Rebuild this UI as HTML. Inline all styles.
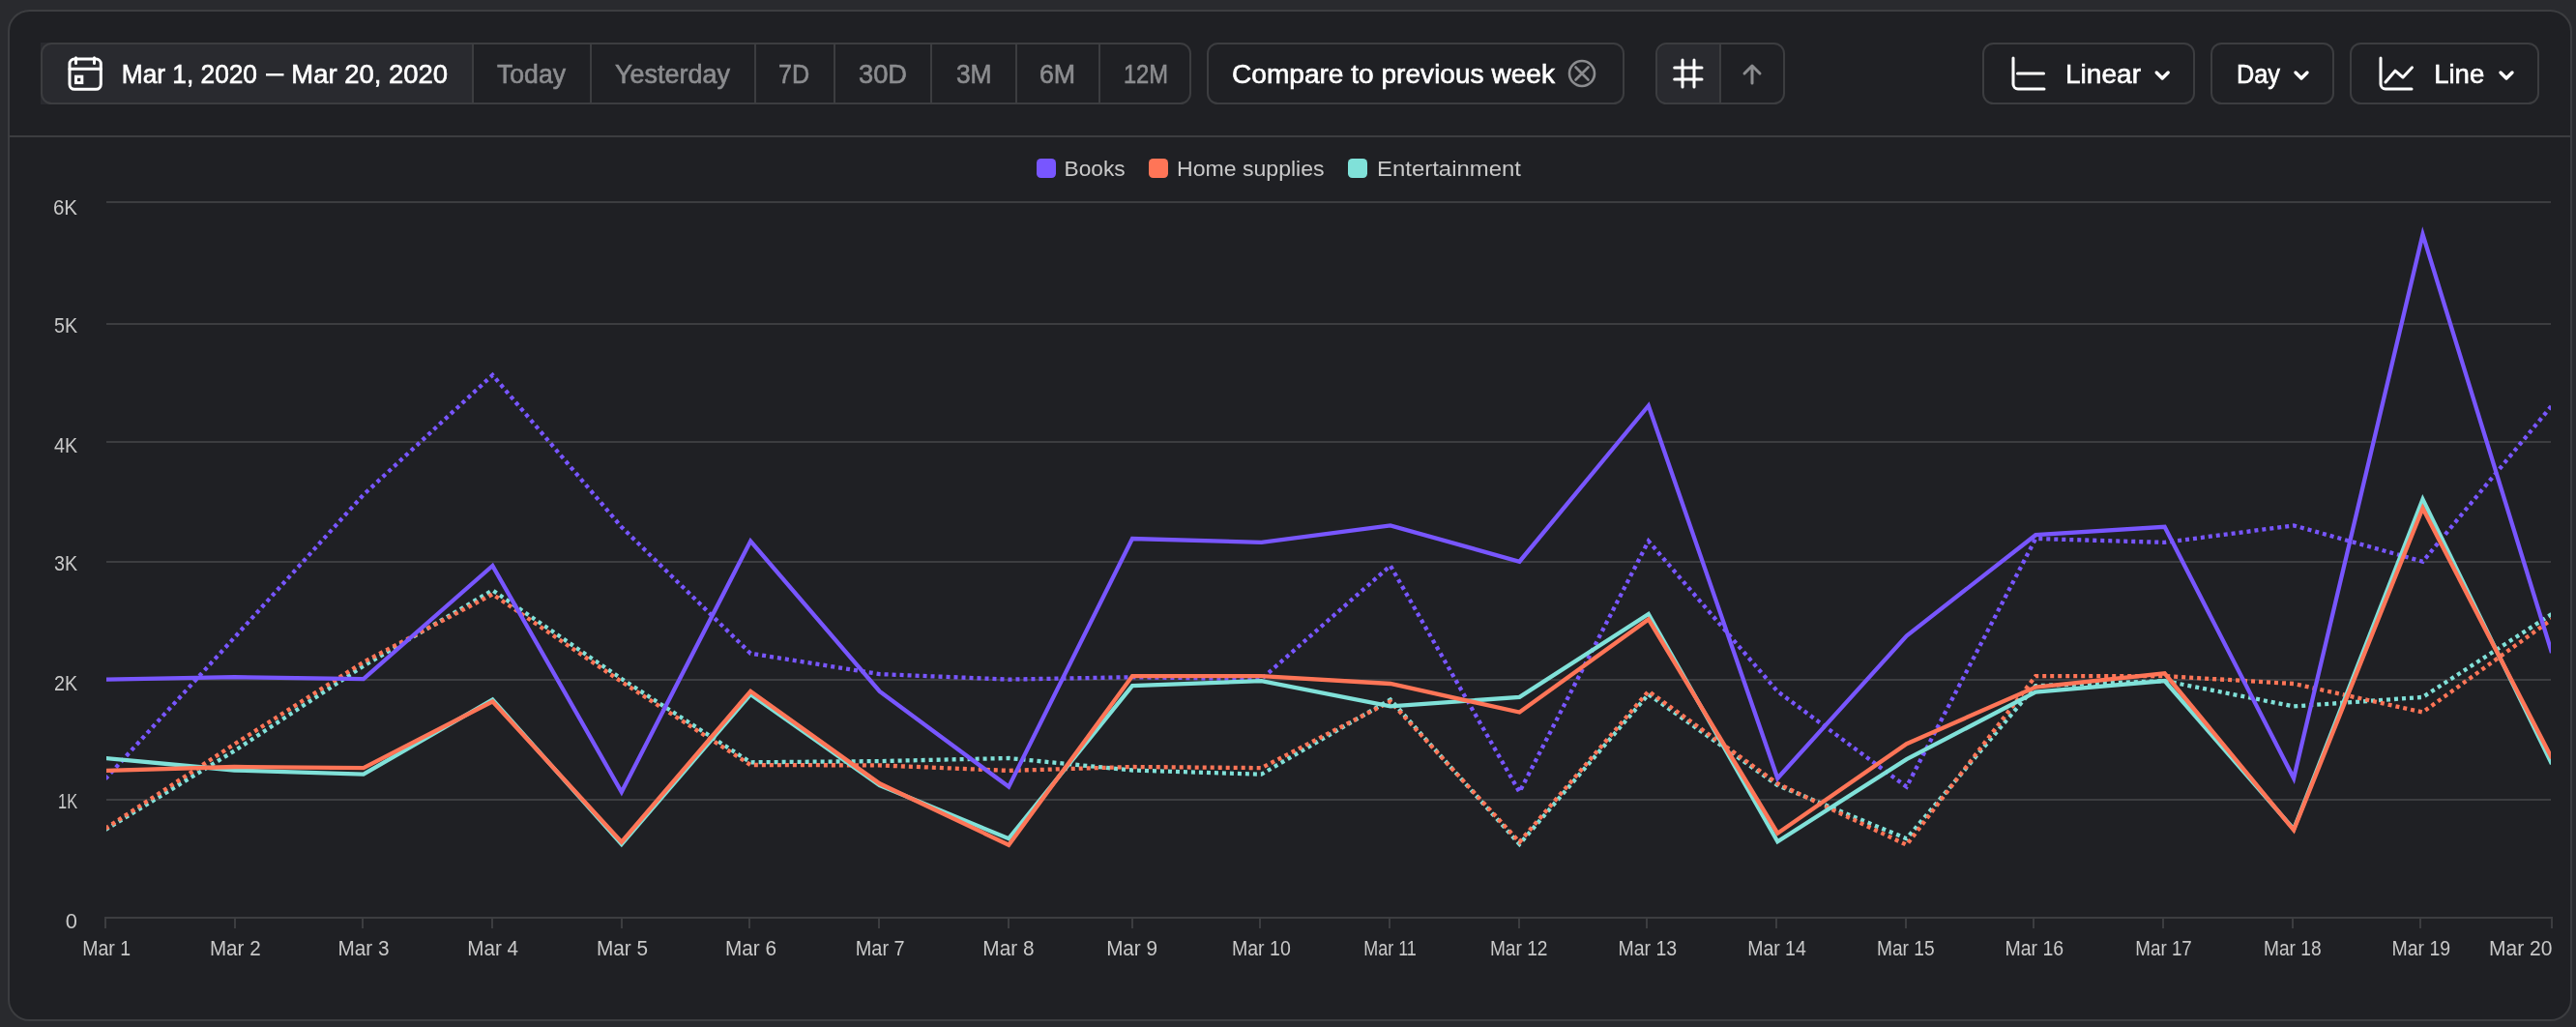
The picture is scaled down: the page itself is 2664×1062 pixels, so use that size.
<!DOCTYPE html><html><head><meta charset="utf-8"><title>Chart</title><style>html,body{margin:0;padding:0;background:#292a2e;}svg{display:block;will-change:transform}text{font-family:"Liberation Sans",sans-serif}</style></head><body>
<svg width="2664" height="1062" viewBox="0 0 2664 1062">
<rect width="2664" height="1062" fill="#292a2e"/>
<rect x="9" y="11" width="2650" height="1044" rx="21.5" fill="#1f2024" stroke="#3c3d40" stroke-width="2"/>
<rect x="10" y="140" width="2648" height="2" fill="#3c3d40"/>
<rect x="42" y="44" width="447" height="64" fill="#292a2f"/>
<rect x="43" y="45" width="1188" height="62" rx="10.5" fill="none" stroke="#3c3d40" stroke-width="2"/>
<rect x="488" y="46" width="2" height="60" fill="#3c3d40"/>
<rect x="610" y="46" width="2" height="60" fill="#3c3d40"/>
<rect x="780" y="46" width="2" height="60" fill="#3c3d40"/>
<rect x="862" y="46" width="2" height="60" fill="#3c3d40"/>
<rect x="962" y="46" width="2" height="60" fill="#3c3d40"/>
<rect x="1050" y="46" width="2" height="60" fill="#3c3d40"/>
<rect x="1136" y="46" width="2" height="60" fill="#3c3d40"/>
<g fill="none" stroke="#ffffff" stroke-width="3" stroke-linecap="round" stroke-linejoin="round"><rect x="72" y="61" width="32.3" height="31.3" rx="5"/><path d="M72 71.3H104.3M78.5 59.8V65.5M97.5 59.8V65.5"/><rect x="78.5" y="79.2" width="6.3" height="6.4" stroke-linejoin="miter"/></g>
<text x="125.77" y="85.9" font-size="27" fill="#ffffff" stroke="#ffffff" stroke-width="0.6" textLength="140.23" lengthAdjust="spacingAndGlyphs">Mar 1, 2020</text>
<rect x="275" y="76" width="18.5" height="2.5" fill="#ffffff"/>
<text x="301.37" y="85.9" font-size="27" fill="#ffffff" stroke="#ffffff" stroke-width="0.6" textLength="161.64" lengthAdjust="spacingAndGlyphs">Mar 20, 2020</text>
<text x="514.00" y="85.9" font-size="27" fill="#8b8c8f" stroke="#8b8c8f" stroke-width="0.6" textLength="71.00" lengthAdjust="spacingAndGlyphs">Today</text>
<text x="636.00" y="85.9" font-size="27" fill="#8b8c8f" stroke="#8b8c8f" stroke-width="0.6" textLength="119.00" lengthAdjust="spacingAndGlyphs">Yesterday</text>
<text x="804.93" y="85.9" font-size="27" fill="#8b8c8f" stroke="#8b8c8f" stroke-width="0.6" textLength="32.14" lengthAdjust="spacingAndGlyphs">7D</text>
<text x="887.98" y="85.9" font-size="27" fill="#8b8c8f" stroke="#8b8c8f" stroke-width="0.6" textLength="50.05" lengthAdjust="spacingAndGlyphs">30D</text>
<text x="988.91" y="85.9" font-size="27" fill="#8b8c8f" stroke="#8b8c8f" stroke-width="0.6" textLength="36.64" lengthAdjust="spacingAndGlyphs">3M</text>
<text x="1074.92" y="85.9" font-size="27" fill="#8b8c8f" stroke="#8b8c8f" stroke-width="0.6" textLength="37.20" lengthAdjust="spacingAndGlyphs">6M</text>
<text x="1161.95" y="85.9" font-size="27" fill="#8b8c8f" stroke="#8b8c8f" stroke-width="0.6" textLength="46.10" lengthAdjust="spacingAndGlyphs">12M</text>
<rect x="1249" y="45" width="430" height="62" rx="10.5" fill="none" stroke="#3c3d40" stroke-width="2"/>
<text x="1274.00" y="85.9" font-size="27" fill="#ffffff" stroke="#ffffff" stroke-width="0.6" textLength="334.00" lengthAdjust="spacingAndGlyphs">Compare to previous week</text>
<g fill="none" stroke="#8b8c8f" stroke-width="2.6" stroke-linecap="round"><circle cx="1636" cy="76" r="13"/><path d="M1629.5 69.5L1642.5 82.5M1642.5 69.5L1629.5 82.5"/></g>
<path d="M1724 46 H1779 V106 H1724 A10 10 0 0 1 1714 96 V56 A10 10 0 0 1 1724 46Z" fill="#292a2f"/>
<rect x="1713" y="45" width="132" height="62" rx="10.5" fill="none" stroke="#3c3d40" stroke-width="2"/>
<rect x="1778" y="46" width="2" height="60" fill="#3c3d40"/>
<path d="M1740 62V90M1752 62V90M1731.7 70H1760M1731.7 82H1760" fill="none" stroke="#ffffff" stroke-width="3" stroke-linecap="round"/>
<path d="M1812 86V68M1804 76L1812 68L1820 76" fill="none" stroke="#8b8c8f" stroke-width="3" stroke-linecap="round" stroke-linejoin="round"/>
<rect x="2051" y="45" width="218" height="62" rx="10.5" fill="none" stroke="#3c3d40" stroke-width="2"/>
<path d="M2082 60V87A5 5 0 0 0 2087 92H2114M2086.5 76H2113.5" fill="none" stroke="#ffffff" stroke-width="3" stroke-linecap="round" stroke-linejoin="round"/>
<text x="2135.97" y="85.9" font-size="27" fill="#ffffff" stroke="#ffffff" stroke-width="0.6" textLength="78.03" lengthAdjust="spacingAndGlyphs">Linear</text>
<path d="M2230.2 75L2236.2 81L2242.2 75" fill="none" stroke="#ffffff" stroke-width="3.4" stroke-linecap="round" stroke-linejoin="round"/>
<rect x="2287" y="45" width="126" height="62" rx="10.5" fill="none" stroke="#3c3d40" stroke-width="2"/>
<text x="2312.94" y="85.9" font-size="27" fill="#ffffff" stroke="#ffffff" stroke-width="0.6" textLength="45.06" lengthAdjust="spacingAndGlyphs">Day</text>
<path d="M2374 75L2380 81L2386 75" fill="none" stroke="#ffffff" stroke-width="3.4" stroke-linecap="round" stroke-linejoin="round"/>
<rect x="2431" y="45" width="194" height="62" rx="10.5" fill="none" stroke="#3c3d40" stroke-width="2"/>
<path d="M2462 60V87A5 5 0 0 0 2467 92H2494M2467 85L2477 73.2L2485 80L2494.5 69.8" fill="none" stroke="#ffffff" stroke-width="3" stroke-linecap="round" stroke-linejoin="round"/>
<text x="2517.15" y="85.9" font-size="27" fill="#ffffff" stroke="#ffffff" stroke-width="0.6" textLength="52.08" lengthAdjust="spacingAndGlyphs">Line</text>
<path d="M2586 75L2592 81L2598 75" fill="none" stroke="#ffffff" stroke-width="3.4" stroke-linecap="round" stroke-linejoin="round"/>
<rect x="1072" y="164" width="20" height="20" rx="4.5" fill="#7856ff"/>
<rect x="1188" y="164" width="20" height="20" rx="4.5" fill="#ff7557"/>
<rect x="1394" y="164" width="20" height="20" rx="4.5" fill="#80e1d9"/>
<text x="1100.55" y="181.7" font-size="22.3" fill="#c9c9c9" textLength="63.07" lengthAdjust="spacingAndGlyphs">Books</text>
<text x="1216.97" y="181.7" font-size="22.3" fill="#c9c9c9" textLength="152.64" lengthAdjust="spacingAndGlyphs">Home supplies</text>
<text x="1423.98" y="181.7" font-size="22.3" fill="#c9c9c9" textLength="149.02" lengthAdjust="spacingAndGlyphs">Entertainment</text>
<rect x="110" y="208" width="2528" height="2" fill="#3c3d40"/>
<rect x="110" y="334" width="2528" height="2" fill="#3c3d40"/>
<rect x="110" y="456" width="2528" height="2" fill="#3c3d40"/>
<rect x="110" y="580" width="2528" height="2" fill="#3c3d40"/>
<rect x="110" y="702" width="2528" height="2" fill="#3c3d40"/>
<rect x="110" y="826" width="2528" height="2" fill="#3c3d40"/>
<rect x="108" y="948" width="2532" height="2" fill="#3c3d40"/>
<rect x="108" y="948" width="2" height="12" fill="#3c3d40"/>
<rect x="242" y="948" width="2" height="12" fill="#3c3d40"/>
<rect x="374" y="948" width="2" height="12" fill="#3c3d40"/>
<rect x="508" y="948" width="2" height="12" fill="#3c3d40"/>
<rect x="642" y="948" width="2" height="12" fill="#3c3d40"/>
<rect x="774" y="948" width="2" height="12" fill="#3c3d40"/>
<rect x="908" y="948" width="2" height="12" fill="#3c3d40"/>
<rect x="1042" y="948" width="2" height="12" fill="#3c3d40"/>
<rect x="1170" y="948" width="2" height="12" fill="#3c3d40"/>
<rect x="1302" y="948" width="2" height="12" fill="#3c3d40"/>
<rect x="1436" y="948" width="2" height="12" fill="#3c3d40"/>
<rect x="1570" y="948" width="2" height="12" fill="#3c3d40"/>
<rect x="1702" y="948" width="2" height="12" fill="#3c3d40"/>
<rect x="1836" y="948" width="2" height="12" fill="#3c3d40"/>
<rect x="1970" y="948" width="2" height="12" fill="#3c3d40"/>
<rect x="2102" y="948" width="2" height="12" fill="#3c3d40"/>
<rect x="2236" y="948" width="2" height="12" fill="#3c3d40"/>
<rect x="2370" y="948" width="2" height="12" fill="#3c3d40"/>
<rect x="2502" y="948" width="2" height="12" fill="#3c3d40"/>
<rect x="2638" y="948" width="2" height="12" fill="#3c3d40"/>
<text x="54.93" y="222" font-size="21.5" fill="#c9c9c9" textLength="25.11" lengthAdjust="spacingAndGlyphs">6K</text>
<text x="55.98" y="344.4" font-size="21.5" fill="#c9c9c9" textLength="24.05" lengthAdjust="spacingAndGlyphs">5K</text>
<text x="56.00" y="468.2" font-size="21.5" fill="#c9c9c9" textLength="24.02" lengthAdjust="spacingAndGlyphs">4K</text>
<text x="55.98" y="590.3" font-size="21.5" fill="#c9c9c9" textLength="24.05" lengthAdjust="spacingAndGlyphs">3K</text>
<text x="55.98" y="714" font-size="21.5" fill="#c9c9c9" textLength="24.05" lengthAdjust="spacingAndGlyphs">2K</text>
<text x="60.09" y="836.4" font-size="21.5" fill="#c9c9c9" textLength="19.98" lengthAdjust="spacingAndGlyphs">1K</text>
<text x="67.86" y="960.3" font-size="21.5" fill="#c9c9c9" textLength="12.15" lengthAdjust="spacingAndGlyphs">0</text>
<text x="85.13" y="988.3" font-size="21.5" fill="#c9c9c9" textLength="49.93" lengthAdjust="spacingAndGlyphs">Mar 1</text>
<text x="216.93" y="988.3" font-size="21.5" fill="#c9c9c9" textLength="52.72" lengthAdjust="spacingAndGlyphs">Mar 2</text>
<text x="349.53" y="988.3" font-size="21.5" fill="#c9c9c9" textLength="53.08" lengthAdjust="spacingAndGlyphs">Mar 3</text>
<text x="483.36" y="988.3" font-size="21.5" fill="#c9c9c9" textLength="52.64" lengthAdjust="spacingAndGlyphs">Mar 4</text>
<text x="616.92" y="988.3" font-size="21.5" fill="#c9c9c9" textLength="53.14" lengthAdjust="spacingAndGlyphs">Mar 5</text>
<text x="750.12" y="988.3" font-size="21.5" fill="#c9c9c9" textLength="52.92" lengthAdjust="spacingAndGlyphs">Mar 6</text>
<text x="884.75" y="988.3" font-size="21.5" fill="#c9c9c9" textLength="50.89" lengthAdjust="spacingAndGlyphs">Mar 7</text>
<text x="1016.36" y="988.3" font-size="21.5" fill="#c9c9c9" textLength="53.08" lengthAdjust="spacingAndGlyphs">Mar 8</text>
<text x="1144.15" y="988.3" font-size="21.5" fill="#c9c9c9" textLength="52.88" lengthAdjust="spacingAndGlyphs">Mar 9</text>
<text x="1273.97" y="988.3" font-size="21.5" fill="#c9c9c9" textLength="60.84" lengthAdjust="spacingAndGlyphs">Mar 10</text>
<text x="1410.18" y="988.3" font-size="21.5" fill="#c9c9c9" textLength="54.64" lengthAdjust="spacingAndGlyphs">Mar 11</text>
<text x="1540.94" y="988.3" font-size="21.5" fill="#c9c9c9" textLength="59.51" lengthAdjust="spacingAndGlyphs">Mar 12</text>
<text x="1673.53" y="988.3" font-size="21.5" fill="#c9c9c9" textLength="60.70" lengthAdjust="spacingAndGlyphs">Mar 13</text>
<text x="1807.15" y="988.3" font-size="21.5" fill="#c9c9c9" textLength="60.66" lengthAdjust="spacingAndGlyphs">Mar 14</text>
<text x="1940.95" y="988.3" font-size="21.5" fill="#c9c9c9" textLength="59.66" lengthAdjust="spacingAndGlyphs">Mar 15</text>
<text x="2073.53" y="988.3" font-size="21.5" fill="#c9c9c9" textLength="60.70" lengthAdjust="spacingAndGlyphs">Mar 16</text>
<text x="2208.35" y="988.3" font-size="21.5" fill="#c9c9c9" textLength="58.46" lengthAdjust="spacingAndGlyphs">Mar 17</text>
<text x="2340.95" y="988.3" font-size="21.5" fill="#c9c9c9" textLength="59.66" lengthAdjust="spacingAndGlyphs">Mar 18</text>
<text x="2473.53" y="988.3" font-size="21.5" fill="#c9c9c9" textLength="60.70" lengthAdjust="spacingAndGlyphs">Mar 19</text>
<text x="2573.94" y="988.3" font-size="21.5" fill="#c9c9c9" textLength="65.50" lengthAdjust="spacingAndGlyphs">Mar 20</text>
<clipPath id="cp"><rect x="110" y="150" width="2528" height="810"/></clipPath>
<g fill="none" stroke-width="4.3" stroke-linejoin="miter" stroke-miterlimit="10" clip-path="url(#cp)">
<path d="M109.0 858.0 L242.4 776.5 L375.9 688.6 L509.4 610.4 L642.8 702.0 L776.2 788.3 L909.7 787.1 L1043.2 784.0 L1171.0 796.5 L1304.5 800.7 L1437.9 723.4 L1571.4 873.0 L1704.8 718.0 L1838.3 812.0 L1971.7 867.2 L2105.2 709.2 L2238.6 704.1 L2372.1 730.4 L2505.5 720.9 L2639.0 635.0" stroke="#80e1d9" stroke-dasharray="4 4"/>
<path d="M109.0 856.8 L242.4 769.5 L375.9 684.7 L509.4 614.5 L642.8 705.0 L776.2 791.0 L909.7 791.4 L1043.2 796.9 L1171.0 793.0 L1304.5 794.1 L1437.9 725.4 L1571.4 870.7 L1704.8 714.8 L1838.3 810.3 L1971.7 873.7 L2105.2 699.1 L2238.6 699.1 L2372.1 707.0 L2505.5 736.5 L2639.0 640.4" stroke="#ff7557" stroke-dasharray="4 4"/>
<path d="M109.0 805.4 L242.4 659.3 L375.9 511.6 L509.4 387.8 L642.8 545.0 L776.2 675.7 L909.7 697.1 L1043.2 702.6 L1171.0 700.2 L1304.5 702.2 L1437.9 585.0 L1571.4 819.0 L1704.8 559.5 L1838.3 715.0 L1971.7 813.6 L2105.2 557.0 L2238.6 560.9 L2372.1 543.4 L2505.5 580.7 L2639.0 419.5" stroke="#7856ff" stroke-dasharray="4 4"/>
<path d="M109.0 784.0 L242.4 796.5 L375.9 800.7 L509.4 723.4 L642.8 873.0 L776.2 718.0 L909.7 812.0 L1043.2 867.2 L1171.0 709.2 L1304.5 704.1 L1437.9 730.4 L1571.4 720.9 L1704.8 635.0 L1838.3 870.3 L1971.7 785.2 L2105.2 715.5 L2238.6 704.1 L2372.1 857.5 L2505.5 516.3 L2639.0 790.0" stroke="#80e1d9"/>
<path d="M109.0 796.9 L242.4 793.0 L375.9 794.1 L509.4 725.4 L642.8 870.7 L776.2 714.8 L909.7 810.3 L1043.2 873.7 L1171.0 699.1 L1304.5 699.1 L1437.9 707.0 L1571.4 736.5 L1704.8 640.4 L1838.3 861.7 L1971.7 769.2 L2105.2 710.5 L2238.6 696.3 L2372.1 858.3 L2505.5 525.4 L2639.0 784.0" stroke="#ff7557"/>
<path d="M109.0 702.6 L242.4 700.2 L375.9 702.2 L509.4 585.0 L642.8 819.0 L776.2 559.5 L909.7 715.0 L1043.2 813.6 L1171.0 557.0 L1304.5 560.9 L1437.9 543.4 L1571.4 580.7 L1704.8 419.5 L1838.3 804.8 L1971.7 657.5 L2105.2 553.2 L2238.6 544.8 L2372.1 804.8 L2505.5 242.4 L2639.0 675.0" stroke="#7856ff"/>
</g>
</svg></body></html>
